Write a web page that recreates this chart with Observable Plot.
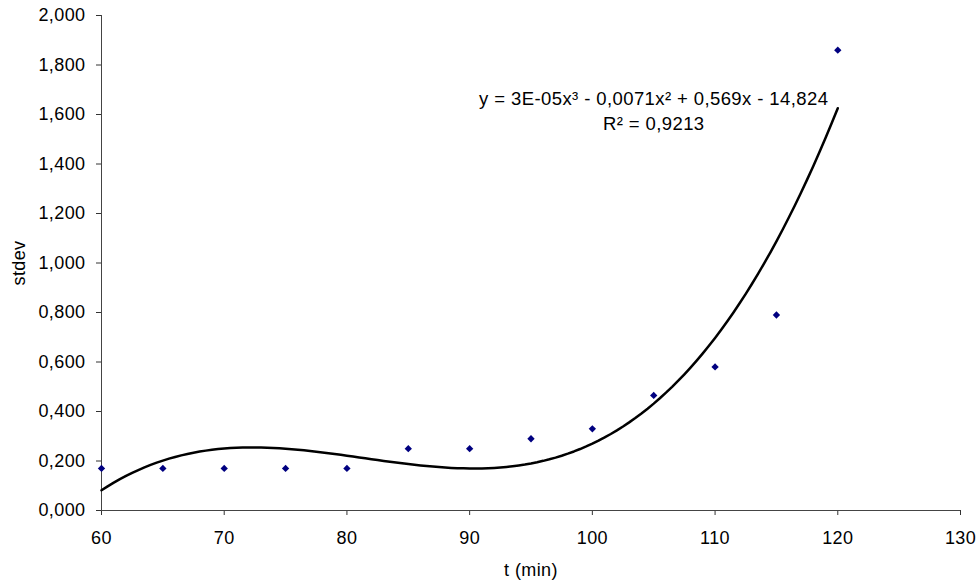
<!DOCTYPE html>
<html>
<head>
<meta charset="utf-8">
<script src="https://cdn.jsdelivr.net/npm/d3@7"></script>
<script src="https://cdn.jsdelivr.net/npm/@observablehq/plot@0.6"></script>
<style>
  html, body { margin: 0; padding: 0; background: #fff; }
  svg { font-family: "Liberation Sans", Arial, sans-serif; }
  svg text { letter-spacing: 0.4px; }
</style>
</head>
<body>
<div id="chart"></div>
<script>
// Measured points
const tValues = [60, 65, 70, 75, 80, 85, 90, 95, 100, 105, 110, 115, 120];
const stdevValues = [0.170, 0.170, 0.170, 0.170, 0.170, 0.250, 0.250, 0.290, 0.330, 0.465, 0.580, 0.790, 1.860];

const xTicks = [60, 70, 80, 90, 100, 110, 120, 130];
const yTicks = [0, 0.2, 0.4, 0.6, 0.8, 1.0, 1.2, 1.4, 1.6, 1.8, 2.0];

const equationText = "y = 3E-05x³ - 0,0071x² + 0,569x - 14,824";
const r2Text = "R² = 0,9213";

const points = tValues.map((t, i) => ({t, s: stdevValues[i]}));

// Polynomial (order 3) least-squares trendline fitted to the measured points
function polyFit(xs, ys, order) {
  const n = order + 1;
  const xm = d3.mean(xs);
  const A = Array.from({length: n}, () => new Array(n + 1).fill(0));
  xs.forEach((x, k) => {
    const u = x - xm;
    for (let i = 0; i < n; i++) {
      for (let j = 0; j < n; j++) A[i][j] += Math.pow(u, i + j);
      A[i][n] += Math.pow(u, i) * ys[k];
    }
  });
  for (let i = 0; i < n; i++) {
    let p = i;
    for (let r = i + 1; r < n; r++) if (Math.abs(A[r][i]) > Math.abs(A[p][i])) p = r;
    [A[i], A[p]] = [A[p], A[i]];
    for (let r = 0; r < n; r++) {
      if (r === i) continue;
      const f = A[r][i] / A[i][i];
      for (let c = i; c <= n; c++) A[r][c] -= f * A[i][c];
    }
  }
  const coef = A.map((row, i) => row[n] / row[i]);
  return x => coef.reduce((s, c, i) => s + c * Math.pow(x - xm, i), 0);
}
const fit = polyFit(tValues, stdevValues, 3);
const trend = d3.range(60, 120.01, 0.5).map(t => ({t, s: fit(t)}));

const fmt = d => d.toFixed(3).replace(".", ",");

const chart = Plot.plot({
  width: 978,
  height: 585,
  marginLeft: 101,
  marginRight: 18,
  marginTop: 15,
  marginBottom: 75,
  style: {fontSize: "18px", fontFamily: "'Liberation Sans', Arial, sans-serif", color: "#000", background: "#fff"},
  x: {domain: [60, 130]},
  y: {domain: [0, 2]},
  marks: [
    Plot.axisX({ticks: xTicks, tickSize: 5, tickPadding: 16, stroke: "#333", fontSize: 18, label: "t (min)", labelAnchor: "center", labelArrow: false, labelOffset: 65, fill: "#000"}),
    Plot.axisY({ticks: yTicks, tickSize: 5, tickPadding: 11, tickFormat: fmt, stroke: "#333", fontSize: 18, label: "stdev", labelAnchor: "center", labelArrow: false, labelOffset: 89, fill: "#000"}),
    Plot.ruleY([0], {stroke: "#444", strokeWidth: 1}),
    Plot.ruleX([60], {stroke: "#444", strokeWidth: 1}),
    Plot.line(trend, {x: "t", y: "s", curve: "linear", stroke: "#000", strokeWidth: 2.5}),
    Plot.dot(points, {x: "t", y: "s", symbol: "diamond2", r: 3.3, fill: "#000080", stroke: "none"}),
    Plot.text([equationText], {x: 105, y: 1.663, text: d => d, fontSize: 18.5, fill: "#000"}),
    Plot.text([r2Text], {x: 105, y: 1.56, text: d => d, fontSize: 18.5, fill: "#000"})
  ]
});
document.getElementById("chart").appendChild(chart);
</script>
</body>
</html>
